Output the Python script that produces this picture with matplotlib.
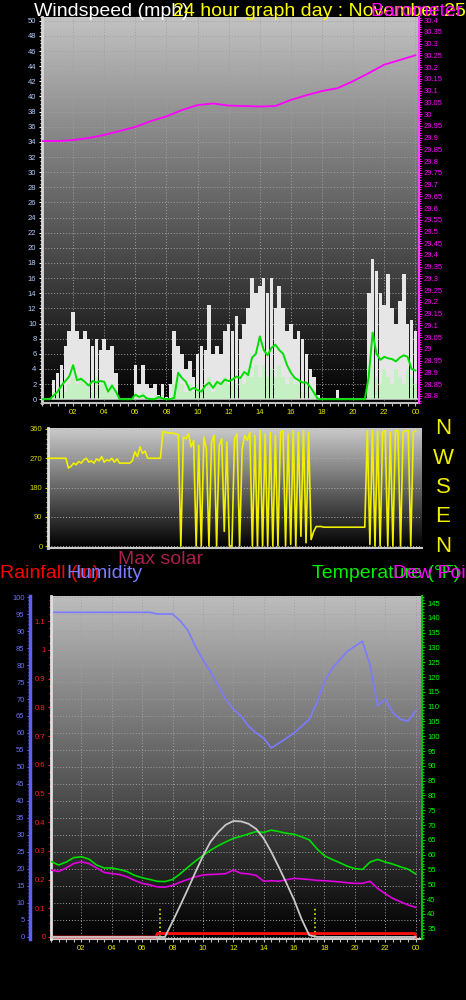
import numpy as np
import matplotlib
matplotlib.use("Agg")
import matplotlib.pyplot as plt
import matplotlib.transforms as mtransforms
from matplotlib.ticker import MultipleLocator, FixedLocator, FuncFormatter

plt.rcParams['font.family'] = ['Liberation Sans', 'DejaVu Sans']

# ---------------------------------------------------------------
# data
# ---------------------------------------------------------------
# wind, sampled every 15 minutes (00:00 .. 24:00)
t15 = np.arange(97) / 4.0
gust = [0, 0, 0, 2.5, 3.5, 4.5, 7, 9, 11.5, 9, 8, 9,
        8, 7, 8, 6.5, 8, 6.5, 7, 3.5,
        0, 0, 0, 0, 4.5, 2, 4.5, 2,
        1.5, 2, 0.5, 2, 0.3, 2, 9, 7,
        6, 4, 5, 3, 6, 7, 6.5, 12.5,
        6, 7, 6, 9, 10, 9, 11, 8,
        10, 12, 16, 14, 15, 16, 14, 16,
        12, 15, 12, 9, 10, 8, 9, 8,
        6, 4, 3, 0.5, 0, 0, 0, 0,
        1.2, 0, 0, 0, 0, 0, 0, 0,
        14, 18.5, 17, 14, 12.5, 16.5, 12, 10,
        13, 16.5, 10, 10.5, 9]
speed = [0, 0, 0, 1, 1, 2, 1, 2, 3, 2, 3, 2,
         2, 1, 3, 2, 2, 1, 2, 1,
         0, 0, 0, 0, 1, 0.5, 1, 0,
         0, 0.5, 0, 0.5, 0, 0, 2, 3,
         2, 1, 2, 1, 2, 1, 2, 3,
         1, 2, 2, 3, 2, 3, 2, 3,
         2, 4, 3, 4.5, 3, 4.5, 3, 4,
         3, 4.5, 3, 2, 3, 2, 3, 1,
         2, 1, 1, 0, 0, 0, 0, 0,
         0, 0, 0, 0, 0, 0, 0, 0,
         4, 4.5, 3, 2, 4, 3, 2, 4,
         3, 2, 4, 3, 2]
avg_speed = [0, 0, 0, 0.5, 1.0, 1.8, 2.4, 3.0, 4.5, 2.5, 2.7, 2.3,
             1.8, 2.4, 2.2, 2.4, 2.3, 1.0, 1.8, 1.0,
             0, 0, 0, 0, 0.6, 0.3, 0.5, 0.1,
             0, 0, 0.3, 0.1, 0, 0, 0.2, 3.5,
             2.8, 2.3, 1.2, 1.5, 1.2, 1.0, 1.8, 2.2,
             1.5, 2.3, 2.0, 2.6, 2.4, 2.6, 3.0, 2.8,
             3.6, 3.2, 5.5, 6.0, 8.3, 6.5, 5.8, 6.8,
             7.2, 6.5, 6.0, 4.5, 3.5, 2.8, 2.5, 2.2,
             2.2, 1.6, 0.8, 0, 0, 0, 0, 0,
             0, 0, 0, 0, 0, 0, 0, 0,
             3.0, 8.8, 6.0, 5.2, 5.6, 5.4, 5.3, 5.0,
             5.5, 5.8, 5.6, 4.0, 3.8]

# barometer, hourly
t60 = np.arange(25)
pressure = [29.885, 29.885, 29.889, 29.898, 29.911, 29.928, 29.945, 29.970,
            29.990, 30.017, 30.038, 30.045, 30.036, 30.034, 30.032, 30.034,
            30.060, 30.080, 30.098, 30.110, 30.140, 30.174, 30.210, 30.230,
            30.250]

# wind direction, every 10 minutes
t10 = np.arange(145) / 6.0
direction = [270, 270, 270, 270, 270, 270,
             270, 270, 240, 245, 255, 250,
             260, 255, 265, 270, 258, 262,
             255, 268, 262, 275, 258, 265,
             262, 270, 258, 268, 255, 255,
             255, 255, 255, 262, 290, 275,
             305, 285, 292, 270, 270, 270,
             270, 270, 270, 352, 350, 348,
             348, 347, 345, 342, 0, 335,
             330, 345, 305, 325, 0, 310,
             0, 335, 300, 0, 320, 340,
             0, 310, 330, 45, 320, 0,
             0, 330, 345, 0, 300, 340,
             325, 350, 0, 340, 0, 355,
             0, 345, 0, 350, 0, 340,
             0, 350, 355, 0, 345, 5,
             355, 0, 350, 30, 355, 10,
             350, 20, 45, 60, 60, 60,
             58, 58, 58, 58, 58, 58,
             58, 58, 58, 58, 58, 58,
             58, 58, 58, 58, 58, 355,
             5, 355, 0, 355, 0, 350,
             355, 0, 350, 0, 355, 355,
             0, 350, 355, 355, 0, 350,
             355]
compass = ['N', 'W', 'S', 'E', 'N']
compass_deg = [360, 270, 180, 90, 0]

# bottom chart, every 30 minutes
t30 = np.arange(49) / 2.0
humidity = [95.5, 95.5, 95.5, 95.5, 95.5, 95.5, 95.5, 95.5, 95.5, 95.5, 95.5, 95.5, 95.5, 95.5,
            95, 95, 95, 93, 90.3, 85.5, 81.5, 78, 74, 70, 67, 65, 62, 60, 58.5, 55.6,
            57, 58.5, 60, 62, 64, 69, 75, 79, 81.5, 84, 85.5, 87, 80, 68, 70, 66, 64, 63.5, 66.5]
temperature = [57.7, 56.5, 57.5, 59.0, 59.3, 58.5, 56.5, 55.5, 55.5, 55.0, 54.3, 53.0,
               52.2, 51.6, 51.0, 50.9, 51.6, 53.5, 55.7, 57.8, 59.7, 61.5, 63.0, 64.3,
               65.5, 66.2, 67.0, 67.8, 67.5, 68.3, 67.8, 67.2, 66.9, 66.0, 65.0, 62.0,
               59.6, 58.4, 57.3, 56.1, 55.3, 55.0, 57.5, 58.4, 57.5, 56.8, 55.9, 55.1, 53.5]
dew_point = [54.8, 54.3, 55.5, 57.0, 57.6, 57.0, 55.5, 54.0, 53.6, 53.3, 52.5, 51.3,
             50.3, 49.8, 49.1, 49.0, 49.6, 50.7, 51.6, 52.5, 53.1, 53.3, 53.4, 53.6,
             54.8, 53.7, 53.5, 53.0, 51.0, 51.2, 51.0, 51.5, 52.0, 51.8, 51.6, 51.3,
             51.2, 51.0, 50.8, 50.5, 50.3, 50.3, 51.0, 48.6, 46.8, 45.2, 44.1, 43.0, 42.2]
max_solar = [0, 0, 0, 0, 0, 0, 0, 0, 0, 0, 0, 0, 0, 0, 0, 0,
             45, 92, 140, 190, 238, 280, 308, 330, 341, 340, 333, 318, 290, 250,
             205, 158, 109, 52, 5,
             0, 0, 0, 0, 0, 0, 0, 0, 0, 0, 0, 0, 0, 0]
rain_t = [0, 6.9, 7.0, 23.95, 24.0]
rain_in = [0, 0, 0.012, 0.012, 0]
sun_times = [7.2, 17.4]

hour_ticks = list(range(2, 25, 2))
hour_fmt = FuncFormatter(lambda v, p: '%02d' % (int(round(v)) % 24))
num_fmt = FuncFormatter(lambda v, p: '{:g}'.format(round(v, 2)))

# ---------------------------------------------------------------
fig = plt.figure(figsize=(4.66, 10), dpi=100, facecolor='black')


def px_axes(x0, y0, x1, y1):
    return fig.add_axes([x0 / 466, 1 - y1 / 1000, (x1 - x0) / 466, (y1 - y0) / 1000])


def gradient(ax, top):
    g = np.linspace(0, top, 256).reshape(-1, 1)
    ax.imshow(g, extent=[0, 1, 0, 1], transform=ax.transAxes, origin='lower',
              aspect='auto', cmap='gray', vmin=0, vmax=1, zorder=0)


def hide_spines(ax, keep):
    for name, sp in ax.spines.items():
        sp.set_visible(name in keep)


# --- windspeed / barometer -------------------------------------
ax1 = px_axes(42, 17, 418.5, 403)
ax1.set_facecolor('black')
gradient(ax1, 0.76)
ax1.bar(t15, gust, width=0.23, color='#e6e6e6', zorder=2)
ax1.bar(t15, speed, width=0.23, color='#c4f0c4', zorder=3)
ax1.axhline(0, color='#a8a8a8', lw=1.5, zorder=2)
ax1.plot(t15, avg_speed, color='#00dd00', lw=1.4, zorder=4)
ax1.set_xlim(0, 24.2)
ax1.set_ylim(-0.5, 50.5)
ax1.yaxis.set_major_locator(MultipleLocator(2))
ax1.yaxis.set_minor_locator(MultipleLocator(0.5))
ax1.xaxis.set_major_locator(FixedLocator(hour_ticks))
ax1.xaxis.set_major_formatter(hour_fmt)
ax1.xaxis.set_minor_locator(MultipleLocator(0.5))
ax1.grid(True, which='major', color='#a0a0a0', ls=(0, (1, 2)), lw=0.7)
ax1.tick_params(axis='y', which='both', colors='white', labelcolor='#b0ccff',
                labelsize=5.5, length=2.5, width=0.8, pad=1.5)
ax1.tick_params(axis='y', which='minor', length=1.5)
ax1.tick_params(axis='x', which='both', colors='#c0c0c0', labelcolor='#e8e800',
                labelsize=5.5, length=2, width=0.8, pad=2)
hide_spines(ax1, ['left', 'bottom'])
ax1.spines['left'].set_color('#d8d8d8')
ax1.spines['left'].set_linewidth(2)
ax1.spines['bottom'].set_color('#c0c0c0')
ax1.spines['bottom'].set_linewidth(1.5)

ax1p = ax1.twinx()
ax1p.plot(t60, pressure, color='#ff00ff', lw=1.3)
ax1p.set_ylim(28.77, 30.413)
ax1p.yaxis.set_major_locator(MultipleLocator(0.05))
ax1p.yaxis.set_minor_locator(MultipleLocator(0.01))
ax1p.yaxis.set_major_formatter(num_fmt)
ax1p.tick_params(axis='y', which='both', colors='#ff00ff', labelsize=5.5,
                 length=2.5, width=0.8, pad=1.5)
ax1p.tick_params(axis='y', which='minor', length=1.5)
hide_spines(ax1p, ['right'])
ax1p.spines['right'].set_color('#ff40ff')
ax1p.spines['right'].set_linewidth(1.5)

# --- wind direction --------------------------------------------
ax2 = px_axes(48, 428, 422, 548)
ax2.set_facecolor('black')
gradient(ax2, 0.8)
ax2.plot(t10, direction, color='#f0f000', lw=1.2, zorder=3)
ax2.set_xlim(0, 24.4)
ax2.set_ylim(-6, 363)
ax2.yaxis.set_major_locator(FixedLocator([0, 90, 180, 270, 360]))
ax2.yaxis.set_minor_locator(MultipleLocator(15))
ax2.set_xticks([])
ax2.grid(True, axis='y', which='major', color='#b0b0b0', ls=(0, (1, 2)), lw=0.7)
ax2.tick_params(axis='y', which='both', colors='#c8c800', labelcolor='#d8d800',
                labelsize=5.5, length=2.5, width=0.8, pad=1.5)
ax2.tick_params(axis='y', which='minor', length=1.5)
hide_spines(ax2, ['left', 'bottom'])
ax2.spines['left'].set_color('#e0e0e0')
ax2.spines['left'].set_linewidth(2)
ax2.spines['bottom'].set_color('#c8c8c8')
ax2.spines['bottom'].set_linewidth(1.5)
compass_tr = mtransforms.blended_transform_factory(fig.transFigure, ax2.transData)
for lab, deg in zip(compass, compass_deg):
    ax2.text(443 / 466, deg, lab, transform=compass_tr, color='#f0f000',
             fontsize=16, ha='center', va='center', clip_on=False)

# --- humidity / rain / temperature -----------------------------
ax3 = px_axes(51, 596, 421.7, 939)
ax3.set_facecolor('black')
gradient(ax3, 0.74)
ax3.plot(t30, humidity, color='#7b7bff', lw=1.2, zorder=3)
ax3.vlines(sun_times, 0, 9, colors='#e8e800', linestyles=':', lw=1.2, zorder=3)
ax3.set_xlim(0, 24.4)
ax3.set_ylim(-0.6, 100.3)
ax3.yaxis.set_major_locator(MultipleLocator(5))
ax3.yaxis.set_minor_locator(MultipleLocator(1))
ax3.xaxis.set_major_locator(FixedLocator(hour_ticks))
ax3.xaxis.set_major_formatter(hour_fmt)
ax3.xaxis.set_minor_locator(MultipleLocator(0.5))
ax3.grid(True, which='major', color='#a0a0a0', ls=(0, (1, 2)), lw=0.7)
ax3.tick_params(axis='y', which='both', colors='#6060f0', labelcolor='#7070ff',
                labelsize=5.5, length=2.5, width=0.8, pad=1.5)
ax3.tick_params(axis='y', which='minor', length=1.5)
ax3.tick_params(axis='x', which='both', colors='#c0c0c0', labelcolor='#e8e800',
                labelsize=5.5, length=2, width=0.8, pad=2)
hide_spines(ax3, ['left', 'bottom'])
ax3.spines['left'].set_position(('outward', 15))
ax3.spines['left'].set_color('#6060f0')
ax3.spines['left'].set_linewidth(2.5)
ax3.spines['bottom'].set_color('#c8c8c8')
ax3.spines['bottom'].set_linewidth(1.5)

ax_rain = ax3.twinx()
ax_rain.plot(rain_t, rain_in, color='#ff1010', lw=2)
ax_rain.set_ylim(-0.007, 1.188)
ax_rain.yaxis.tick_left()
ax_rain.yaxis.set_major_locator(MultipleLocator(0.1))
ax_rain.yaxis.set_minor_locator(MultipleLocator(0.025))
ax_rain.yaxis.set_major_formatter(num_fmt)
ax_rain.tick_params(axis='y', which='both', colors='#ff2020', labelsize=5.5,
                    length=2.5, width=0.8, pad=1.5)
ax_rain.tick_params(axis='y', which='minor', length=1.5)
hide_spines(ax_rain, ['left'])
ax_rain.spines['left'].set_color('#e0e0e0')
ax_rain.spines['left'].set_linewidth(2)

ax_temp = ax3.twinx()
ax_temp.plot(t30, temperature, color='#00dd00', lw=1.2)
ax_temp.plot(t30, dew_point, color='#e000e0', lw=1.2)
ax_temp.set_ylim(31.5, 147.4)
ax_temp.yaxis.set_major_locator(MultipleLocator(5))
ax_temp.yaxis.set_minor_locator(MultipleLocator(1))
ax_temp.tick_params(axis='y', which='both', colors='#00d000', labelcolor='#00ff00',
                    labelsize=5.5, length=2.5, width=0.8, pad=1.5)
ax_temp.tick_params(axis='y', which='minor', length=1.5)
hide_spines(ax_temp, ['right'])
ax_temp.spines['right'].set_color('#00c000')
ax_temp.spines['right'].set_linewidth(1.5)

ax_sol = ax3.twinx()
ax_sol.plot(t30, max_solar, color='#c8c8c8', lw=1.3)
ax_sol.set_ylim(-6, 1003)
ax_sol.set_yticks([])
hide_spines(ax_sol, [])

# --- titles ----------------------------------------------------
fs = 14
fig.text(34 / 466, 1 - 12 / 1000, 'Windspeed (mph)', color='white', fontsize=fs, va='center')
fig.text(173 / 466, 1 - 12 / 1000, '24 hour graph day : November 25 2012', color='#ffff00',
         fontsize=fs, va='center')
fig.text(371 / 466, 1 - 12 / 1000, 'Barometer (in)', color='#ff00ff', fontsize=fs, va='center')

fig.text(118 / 466, 1 - 560 / 1000, 'Max solar', color='#a8204c', fontsize=fs, va='center')
fig.text(0, 1 - 573 / 1000, 'Rainfall (in)', color='#ff0000', fontsize=fs, va='center')
fig.text(66 / 466, 1 - 573 / 1000, 'Humidity', color='#7b7bff', fontsize=fs, va='center')
fig.text(312 / 466, 1 - 573 / 1000, 'Temperature (°F)', color='#00ee00', fontsize=fs, va='center')
fig.text(393 / 466, 1 - 573 / 1000, 'Dew Point', color='#ff00ff', fontsize=fs, va='center')

fig.savefig('out.png', dpi=100, facecolor='black')
